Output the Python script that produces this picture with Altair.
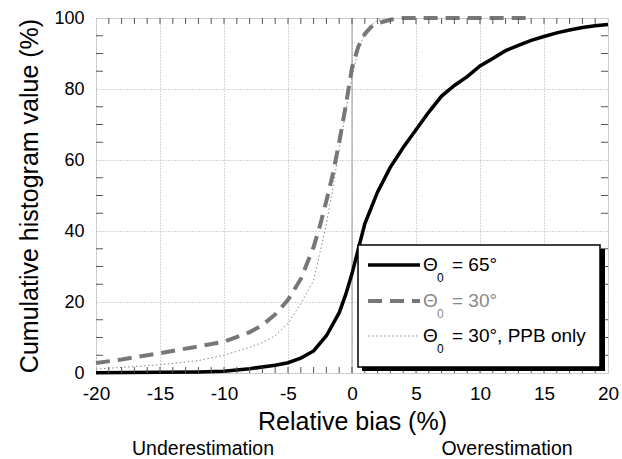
import altair as alt
import pandas as pd

# ---- data ----
x65 = [-20, -15, -12, -10, -8, -6, -5, -4, -3, -2, -1, -0.5, 0, 0.5, 1, 2, 3, 4, 5, 6, 7, 8, 9, 10,
       11, 12, 13, 14, 15, 16, 17, 18, 19, 20]
y65 = [0.1, 0.2, 0.3, 0.5, 1.2, 2.2, 2.9, 4.2, 6.2, 10.5, 17, 22, 28, 35, 42, 51, 58, 63.5, 68.5, 73.5,
       78, 81, 83.5, 86.5, 88.6, 90.8, 92.3, 93.7, 94.8, 95.8, 96.6, 97.3, 97.8, 98.2]

x30 = [-20, -18, -15, -12, -10, -8, -7, -6, -5, -4, -3.5, -3, -2.5, -2, -1.5, -1, -0.5, 0, 0.5, 1,
       1.5, 2, 3, 4, 14]
y30 = [2.8, 3.8, 5.6, 7.5, 8.8, 11.5, 13.5, 16.5, 20.6, 26.5, 31, 35.5, 41.5, 48.5, 56, 65, 75, 86,
       92, 95.5, 97.5, 98.5, 99.5, 100, 100]

xppb = [-20, -15, -12, -10, -8, -7, -6, -5, -4, -3, -2.5, -2, -1.5, -1, -0.5, 0, 0.5, 1, 1.5, 2, 3]
yppb = [1.1, 2.3, 3.5, 5.0, 7.2, 8.6, 10.5, 14, 19.5, 26, 34, 42, 52, 63, 73.5, 83.5, 91, 95.5, 98,
        99.3, 100]

x_ticks = [-20, -15, -10, -5, 0, 5, 10, 15, 20]
y_ticks = [0, 20, 40, 60, 80, 100]
x_minor = list(range(-19, 20))
y_minor = [5, 10, 15, 25, 30, 35, 45, 50, 55, 65, 70, 75, 85, 90, 95]

legend_labels = ["= 65°", "= 30°", "= 30°, PPB only"]
theta_symbol = "Θ"
theta_sub = "0"
x_title = "Relative bias (%)"
y_title = "Cumulative histogram value  (%)"
under_text = "Underestimation"
over_text = "Overestimation"

FONT = "Liberation Sans"
W, H = 512, 355

df65 = pd.DataFrame({"x": x65, "y": y65})
df30 = pd.DataFrame({"x": x30, "y": y30})
dfppb = pd.DataFrame({"x": xppb, "y": yppb})
dfxm = pd.DataFrame({"x": x_minor})
dfym = pd.DataFrame({"y": y_minor})
one = pd.DataFrame({"x": [0]})

xscale = alt.Scale(domain=[-20, 20], nice=False, zero=False)
yscale = alt.Scale(domain=[0, 100], nice=False)

xaxis = alt.Axis(values=x_ticks, title=x_title, labelFontSize=19, titleFontSize=25,
                 labelFont=FONT, titleFont=FONT, labelColor="black", titleColor="black",
                 titleFontWeight="normal", tickSize=0, domain=False, labelPadding=11,
                 titlePadding=6, grid=True, gridColor="#aaaaaa", gridDash=[1, 2],
                 labelFlush=False, labelExpr="'' + datum.value")
yaxis = alt.Axis(values=y_ticks, title=y_title, labelFontSize=18, titleFontSize=25,
                 labelFont=FONT, titleFont=FONT, labelColor="black", titleColor="black",
                 titleFontWeight="normal", tickSize=0, domain=False, labelPadding=12,
                 titlePadding=11, grid=True, gridColor="#aaaaaa", gridDash=[1, 2],
                 labelFlush=False, labelExpr="'' + datum.value")

X = alt.X("x:Q", scale=xscale, axis=xaxis)
Y = alt.Y("y:Q", scale=yscale, axis=yaxis)

base = alt.Chart(df65).mark_line(color="black", strokeWidth=3.5, opacity=0).encode(x=X, y=Y)

zero_rule = alt.Chart(one).mark_rule(color="#999999", strokeWidth=1).encode(
    x=alt.X("x:Q", scale=xscale))

line_ppb = alt.Chart(dfppb).mark_line(color="#888888", strokeWidth=1, strokeDash=[1.5, 2.5]).encode(
    x=alt.X("x:Q", scale=xscale), y=alt.Y("y:Q", scale=yscale))
line_30 = alt.Chart(df30).mark_line(color="#777777", strokeWidth=4, strokeDash=[14, 8]).encode(
    x=alt.X("x:Q", scale=xscale), y=alt.Y("y:Q", scale=yscale))
line_65 = alt.Chart(df65).mark_line(color="black", strokeWidth=3.5).encode(
    x=alt.X("x:Q", scale=xscale), y=alt.Y("y:Q", scale=yscale))

tick_color = "#555555"
top_ticks = alt.Chart(dfxm).mark_rule(color=tick_color).encode(
    x=alt.X("x:Q", scale=xscale), y=alt.value(0), y2=alt.value(6))
bot_ticks = alt.Chart(dfxm).mark_rule(color=tick_color).encode(
    x=alt.X("x:Q", scale=xscale), y=alt.value(H), y2=alt.value(H - 6))
left_ticks = alt.Chart(dfym).mark_rule(color=tick_color).encode(
    y=alt.Y("y:Q", scale=yscale), x=alt.value(0), x2=alt.value(7))
right_ticks = alt.Chart(dfym).mark_rule(color=tick_color).encode(
    y=alt.Y("y:Q", scale=yscale), x=alt.value(W), x2=alt.value(W - 7))

# ---- legend (drawn by hand, with drop shadow) ----
shadow = alt.Chart(one).mark_rect(color="black").encode(
    x=alt.value(266), x2=alt.value(509), y=alt.value(231), y2=alt.value(353))
box = alt.Chart(one).mark_rect(fill="white", stroke="black", strokeWidth=1.5).encode(
    x=alt.value(262), x2=alt.value(504), y=alt.value(227), y2=alt.value(349))

entry_y = [247, 283, 318]
sym_styles = [
    dict(color="black", strokeWidth=3.5),
    dict(color="#777777", strokeWidth=4, strokeDash=[14, 8]),
    dict(color="#888888", strokeWidth=1, strokeDash=[1.5, 2.5]),
]
text_colors = ["black", "#888888", "black"]
legend_layers = [shadow, box]
for i in range(3):
    ey = entry_y[i]
    legend_layers.append(alt.Chart(one).mark_rule(**sym_styles[i]).encode(
        x=alt.value(272), x2=alt.value(324), y=alt.value(ey)))
    legend_layers.append(alt.Chart(one).mark_text(
        text=theta_symbol, font=FONT, fontSize=19, align="left", baseline="middle",
        color=text_colors[i]).encode(x=alt.value(327), y=alt.value(ey)))
    legend_layers.append(alt.Chart(one).mark_text(
        text=theta_sub, font=FONT, fontSize=12, align="left", baseline="middle",
        color=text_colors[i]).encode(x=alt.value(341), y=alt.value(ey + 13)))
    legend_layers.append(alt.Chart(one).mark_text(
        text=legend_labels[i], font=FONT, fontSize=19, align="left", baseline="middle",
        color=text_colors[i]).encode(x=alt.value(356), y=alt.value(ey)))

under = alt.Chart(one).mark_text(text=under_text, font=FONT, fontSize=19.5, align="center",
                                 baseline="middle", color="black").encode(
    x=alt.value(107), y=alt.value(431))
over = alt.Chart(one).mark_text(text=over_text, font=FONT, fontSize=19.5, align="center",
                                baseline="middle", color="black").encode(
    x=alt.value(411), y=alt.value(431))

chart = alt.layer(
    base, zero_rule, line_ppb, line_30, line_65,
    top_ticks, bot_ticks, left_ticks, right_ticks,
    *legend_layers, under, over
).properties(
    width=W, height=H,
    autosize=alt.AutoSizeParams(type="none"),
    padding={"left": 96, "top": 18, "right": 14, "bottom": 86},
).configure_view(stroke="#666666", strokeWidth=1.2).configure(background="white")

chart.save("out.html", embed_options={"renderer": "svg", "actions": False})
